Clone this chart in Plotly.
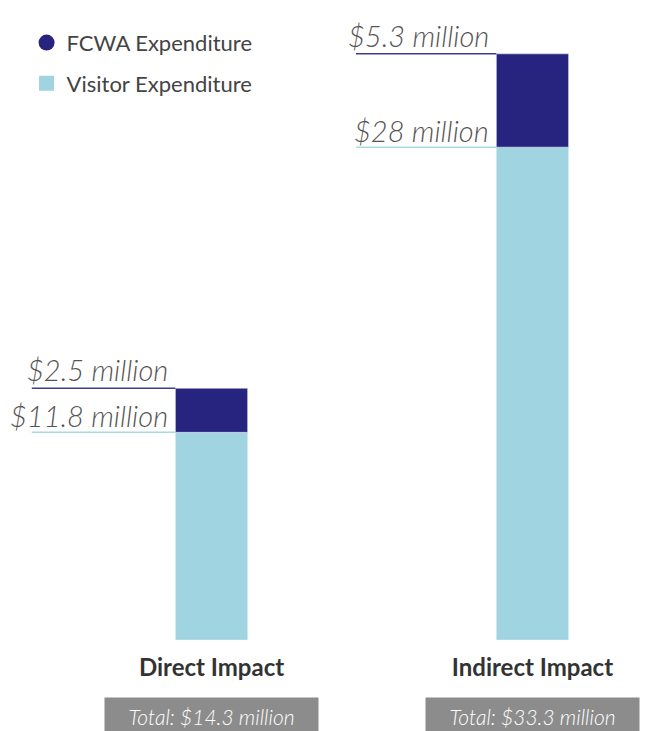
import plotly.graph_objects as go

categories = ["Direct Impact", "Indirect Impact"]
visitor = [11.8, 28.0]
fcwa = [2.5, 5.3]
series_names = ["FCWA Expenditure", "Visitor Expenditure"]

NAVY = "#27247f"
LIGHT = "#9fd4e0"
LINE_NAVY = "#3f3d8f"
LINE_LIGHT = "#a9d9e3"
TXT = "#555555"

xs = list(range(len(categories)))
BAR_W = 0.225

fig = go.Figure()
fig.add_bar(x=xs, y=visitor, marker_color=LIGHT, width=BAR_W, showlegend=False,
            name=series_names[1])
fig.add_bar(x=xs, y=fcwa, base=visitor, marker_color=NAVY, width=BAR_W, showlegend=False,
            name=series_names[0])

# legend entries
fig.add_scatter(x=[None], y=[None], mode="markers", name=series_names[0],
                marker=dict(symbol="circle", size=17, color=NAVY), legendgroup="a")
fig.add_scatter(x=[None], y=[None], mode="markers", name=series_names[1],
                marker=dict(symbol="square", size=15, color=LIGHT), legendgroup="b")

def fmt(v):
    return f"${v:g} million"

line_left = [-0.56, 0.45]
for i, x in enumerate(xs):
    top_v = visitor[i]
    top_t = visitor[i] + fcwa[i]
    left_edge = x - BAR_W / 2
    for yv, col, val, ys in [(top_t, LINE_NAVY, fcwa[i], -1), (top_v, LINE_LIGHT, visitor[i], -3)]:
        fig.add_shape(type="line", x0=line_left[i], x1=left_edge, y0=yv, y1=yv,
                      line=dict(color=col, width=1.5), layer="above")
        fig.add_annotation(x=left_edge, y=yv, xref="x", yref="y", text=fmt(val),
                           showarrow=False, xanchor="right", yanchor="bottom",
                           xshift=-5, yshift=ys,
                           font=dict(family="Lato", size=29, color=TXT, style="italic", weight=300))
    fig.add_annotation(x=x, y=0, xref="x", yref="paper", text=f"Total: {fmt(round(visitor[i] + fcwa[i], 1))}",
                       showarrow=False, yanchor="top", yshift=-57,
                       width=209, height=32, bgcolor="#8c8c8c", borderpad=2,
                       font=dict(family="Lato", size=21, color="white", style="italic", weight=300))

fig.update_layout(
    width=648, height=731,
    margin=dict(l=0, r=0, t=0, b=91),
    paper_bgcolor="white", plot_bgcolor="white",
    barmode="overlay",
    xaxis=dict(range=[-0.659, 1.360], tickvals=xs, ticktext=categories,
               showgrid=False, zeroline=False, showline=False, ticks="",
               tickfont=dict(family="Lato", size=24, color="#333333", weight="bold"),
               ticklabelstandoff=11),
    yaxis=dict(range=[0, 36.36], visible=False),
    legend=dict(x=0.041, y=0.966, xanchor="left", yanchor="top",
                font=dict(family="Lato", size=22, color="#444444"),
                tracegroupgap=9, traceorder="grouped", bgcolor="rgba(0,0,0,0)"),
)

fig.write_html("out.html", config={"displayModeBar": False},
               post_script="document.body.style.margin='0';document.body.style.overflow='hidden';")
